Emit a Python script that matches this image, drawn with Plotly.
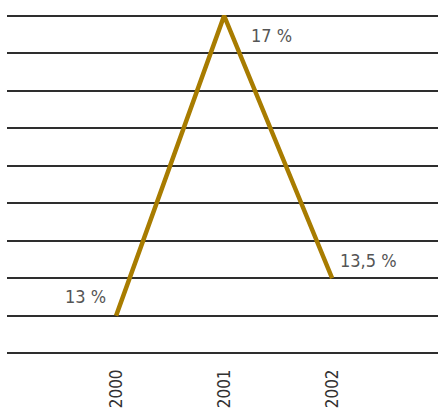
import plotly.graph_objects as go

years = ["2000", "2001", "2002"]
rates = [13.0, 17.0, 13.5]

# label offsets (px) for each point: (xshift, yshift)
label_shift = [(-31, 19), (47, -20), (36, 18)]

FONT = "Liberation Sans Narrow, DejaVu Sans Condensed, sans-serif"


def pct(v):
    s = ("%g" % v).replace(".", ",")
    return s + " %"


fig = go.Figure()
fig.add_trace(go.Scatter(
    x=years, y=rates, mode="lines",
    line=dict(color="#A87C00", width=4.5),
    hoverinfo="skip", showlegend=False, cliponaxis=False,
))

for i, (v, (dx, dy)) in enumerate(zip(rates, label_shift)):
    fig.add_annotation(
        x=i, y=v, xref="x", yref="y", text=pct(v), showarrow=False,
        xshift=dx, yshift=dy, font=dict(family=FONT, size=18, color="#555555"),
    )

fig.update_layout(
    width=438, height=412,
    margin=dict(l=7, r=0, t=12, b=55, pad=0),
    paper_bgcolor="white", plot_bgcolor="white",
    xaxis=dict(
        type="category", range=[-1.01, 2.98], showgrid=False, zeroline=False,
        showline=False, ticks="", tickangle=-90, automargin=False,
        tickfont=dict(family=FONT, size=17, color="#333333"),
        ticklabelstandoff=8,
    ),
    yaxis=dict(
        range=[12.45, 17.05], tick0=12.5, dtick=0.5, showgrid=True,
        gridcolor="#2e2e2e", gridwidth=1.5, zeroline=False, showline=False,
        showticklabels=False, ticks="", automargin=False,
    ),
)

fig.write_html("out.html")
